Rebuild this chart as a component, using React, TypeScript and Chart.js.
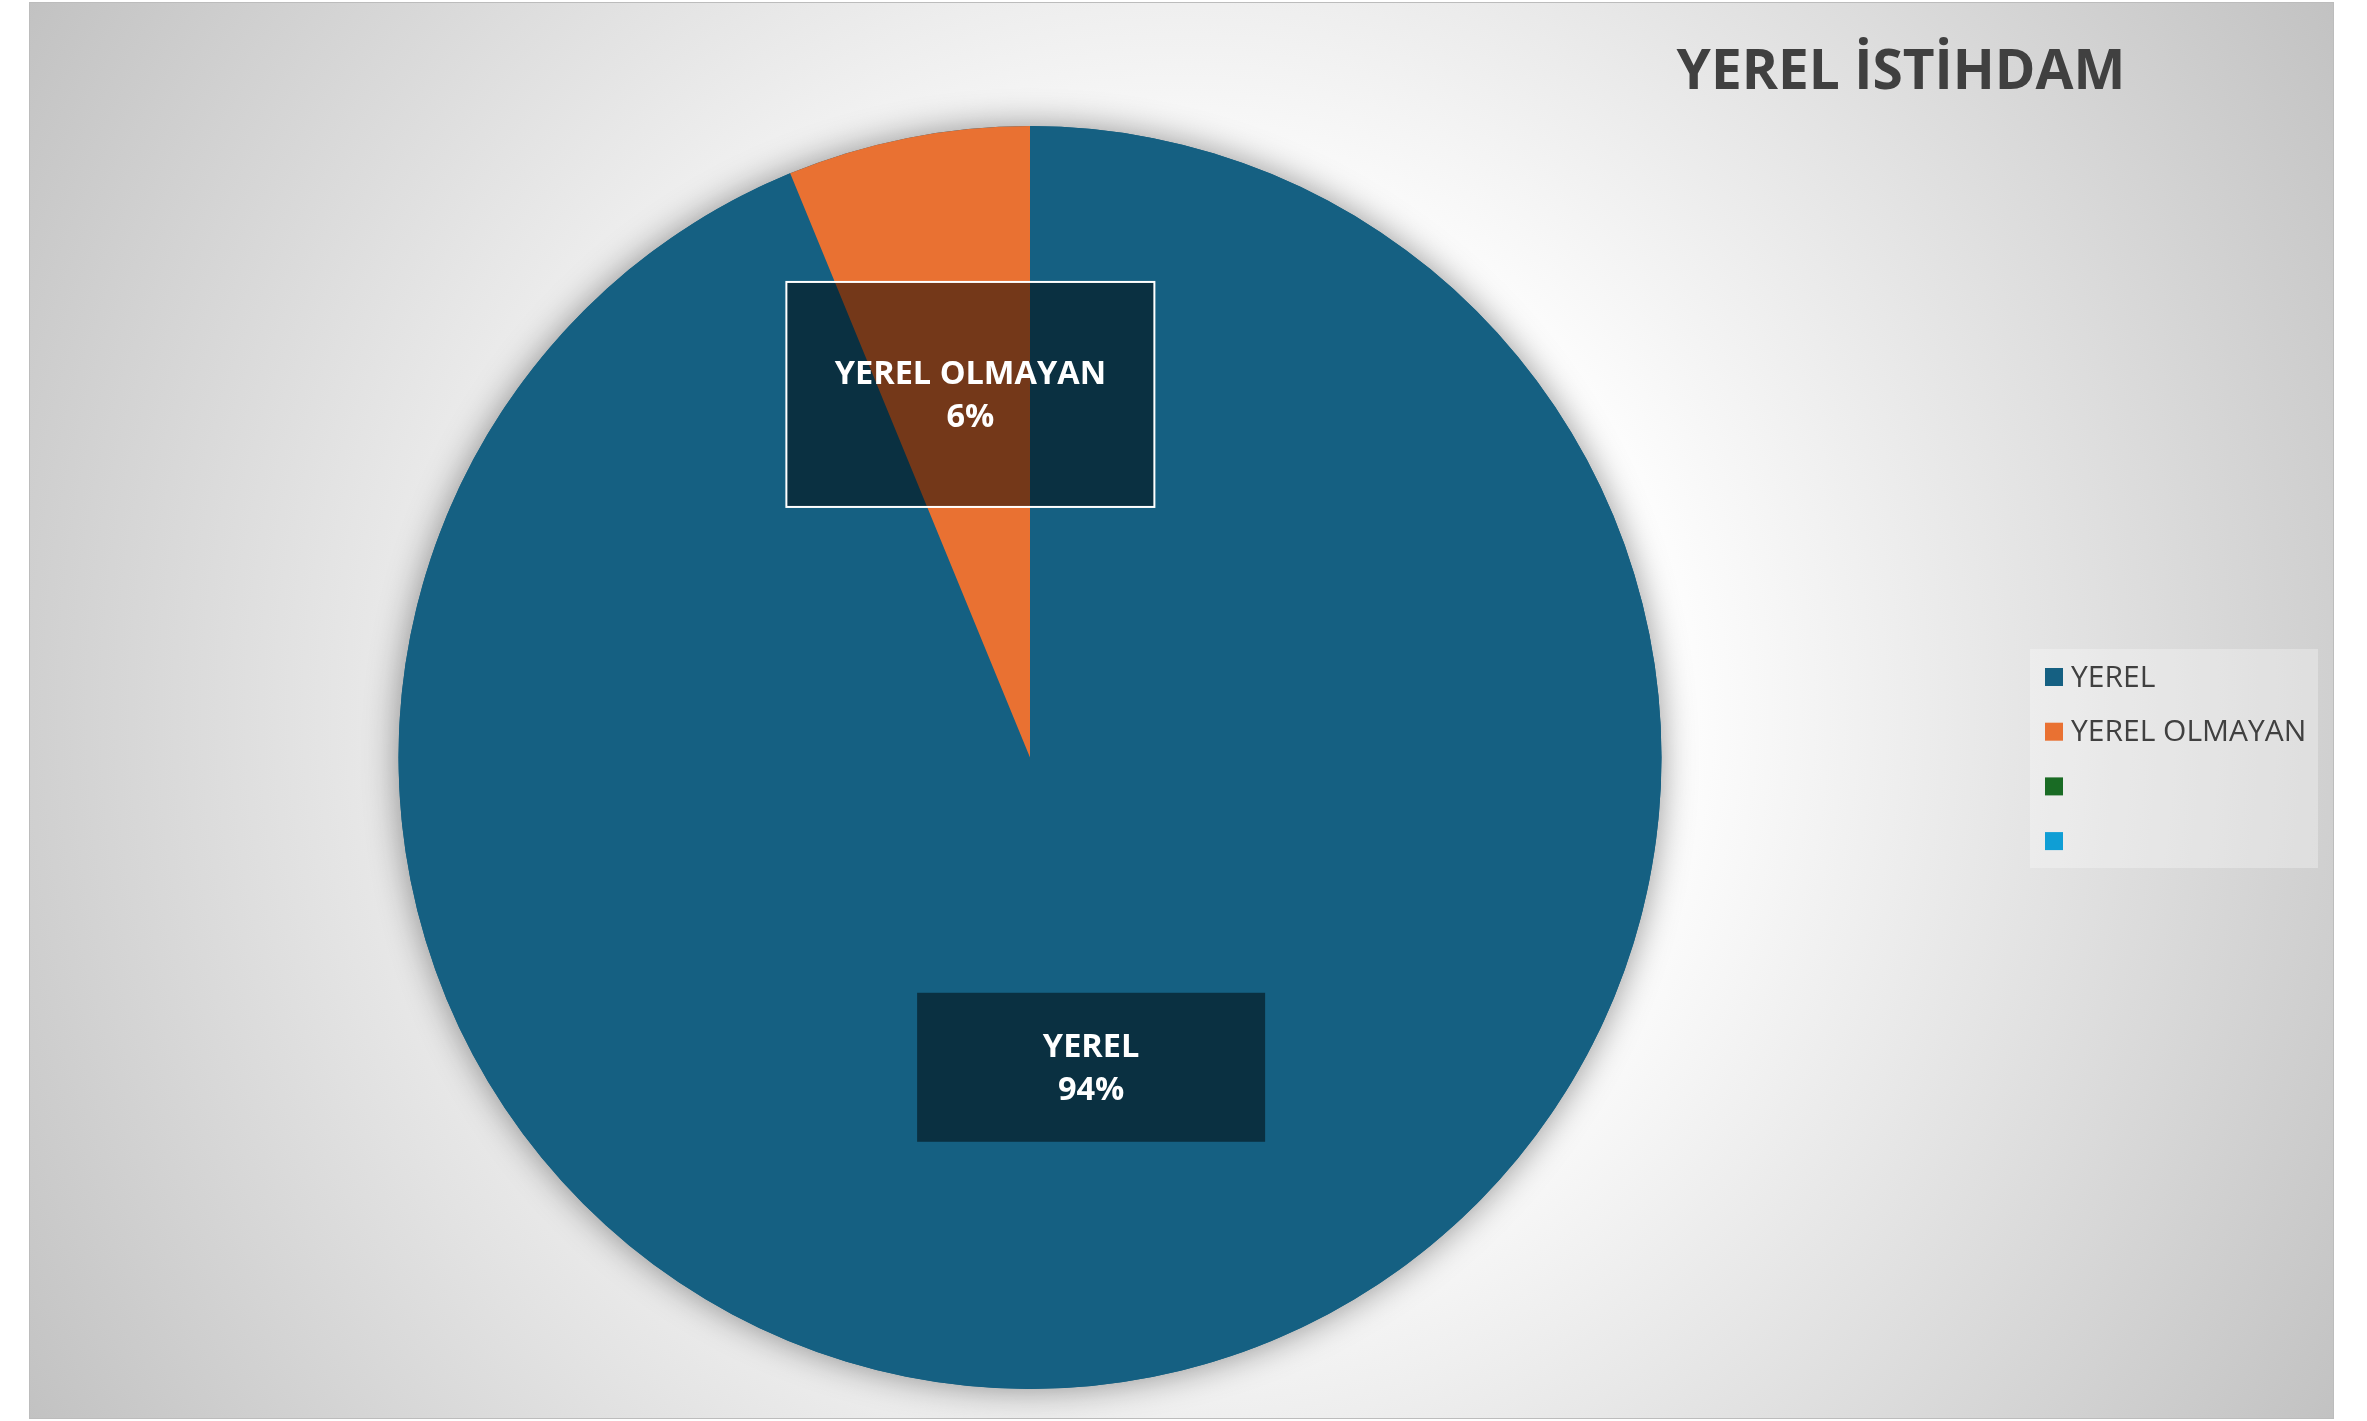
import React, { useEffect, useRef } from "react";
import { Chart, registerables } from "chart.js";

Chart.register(...registerables);

// ---- data ----
const TITLE = "YEREL İSTİHDAM";
const CATEGORIES = ["YEREL", "YEREL OLMAYAN", "", ""];
const VALUES = [93.8, 6.2, 0, 0];
const COLORS = ["#156082", "#E97132", "#196B24", "#0F9ED5"];

// ---- layout / style ----
const W = 2305;
const H = 1417;
const FONT = '"Open Sans", "Noto Sans", sans-serif';
const TEXT_COLOR = "#404040";

const LABEL_STYLE = [
  { frac: 0.5, dx: 0, dy: 0, w: 348, h: 149, border: false },
  { frac: 0.586, dx: 12, dy: 0, w: 368, h: 225, border: true },
];

const decorPlugin = {
  id: "decor",
  beforeDatasetsDraw(chart: any) {
    const meta = chart.getDatasetMeta(0);
    const a: any = meta.data[0];
    if (!a) return;
    const ctx = chart.ctx;
    ctx.save();
    ctx.shadowColor = "rgba(0,0,0,0.42)";
    ctx.shadowBlur = 34;
    ctx.fillStyle = COLORS[0];
    ctx.beginPath();
    ctx.arc(a.x, a.y, a.outerRadius, 0, Math.PI * 2);
    ctx.fill();
    ctx.restore();
  },
  afterDatasetsDraw(chart: any) {
    const ctx = chart.ctx;
    const meta = chart.getDatasetMeta(0);
    const ds = chart.data.datasets[0];
    const values: number[] = ds.data as number[];
    const total = values.reduce((s, v) => s + v, 0);
    const labels: string[] = chart.data.labels as string[];

    // data labels
    ctx.save();
    labels.forEach((lab, i) => {
      const st = LABEL_STYLE[i];
      if (!st || !values[i]) return;
      const arc: any = meta.data[i];
      const mid = (arc.startAngle + arc.endAngle) / 2;
      const r = arc.outerRadius * st.frac;
      const cx = arc.x + Math.cos(mid) * r + st.dx;
      const cy = arc.y + Math.sin(mid) * r + st.dy;
      const x0 = cx - st.w / 2;
      const y0 = cy - st.h / 2;
      ctx.fillStyle = "rgba(0,0,0,0.5)";
      ctx.fillRect(x0, y0, st.w, st.h);
      if (st.border) {
        ctx.strokeStyle = "#ffffff";
        ctx.lineWidth = 2;
        ctx.strokeRect(x0, y0, st.w, st.h);
      }
      ctx.fillStyle = "#ffffff";
      ctx.font = `bold 32.5px ${FONT}`;
      ctx.textAlign = "center";
      ctx.textBaseline = "alphabetic";
      const pct = Math.round((values[i] / total) * 100) + "%";
      ctx.fillText(lab, cx, cy - 10);
      ctx.fillText(pct, cx, cy + 33);
    });
    ctx.restore();
  },
  afterDraw(chart: any) {
    const ctx = chart.ctx;
    const labels: string[] = chart.data.labels as string[];
    const colors: string[] = chart.data.datasets[0].backgroundColor as string[];

    // title
    ctx.save();
    ctx.fillStyle = TEXT_COLOR;
    ctx.font = `bold 55px ${FONT}`;
    ctx.textAlign = "center";
    ctx.textBaseline = "alphabetic";
    ctx.fillText(TITLE, 1872, 87);

    // legend
    const lx = 2001;
    const ly = 647;
    ctx.fillStyle = "rgba(255,255,255,0.3)";
    ctx.fillRect(lx, ly, 288, 219);
    ctx.font = `30px ${FONT}`;
    ctx.textAlign = "left";
    labels.forEach((lab, i) => {
      const yc = 675 + i * 54.7;
      ctx.fillStyle = colors[i];
      ctx.fillRect(2016, yc - 9, 18, 18);
      ctx.fillStyle = TEXT_COLOR;
      ctx.fillText(lab, 2042, yc + 9.5);
    });
    ctx.restore();
  },
};

export default function App() {
  const ref = useRef<HTMLCanvasElement | null>(null);

  useEffect(() => {
    if (!ref.current) return;
    const chart = new Chart(ref.current, {
      type: "pie",
      data: {
        labels: CATEGORIES,
        datasets: [
          {
            data: VALUES,
            backgroundColor: COLORS,
            borderWidth: 0,
            hoverOffset: 0,
            offset: 0,
          },
        ],
      },
      options: {
        responsive: false,
        animation: false,
        events: [],
        layout: { padding: { left: 369.5, right: 672.5, top: 124, bottom: 30 } },
        plugins: {
          legend: { display: false },
          title: { display: false },
          tooltip: { enabled: false },
        },
      },
      plugins: [decorPlugin],
    } as any);
    return () => chart.destroy();
  }, []);

  return (
    <div
      style={{
        position: "absolute",
        left: 0,
        top: 0,
        width: 2367,
        height: 1421,
        background: "#ffffff",
        overflow: "hidden",
      }}
    >
      <div
        style={{
          position: "absolute",
          left: 29,
          top: 2,
          width: W,
          height: H,
          background:
            "radial-gradient(circle farthest-corner at 50% 50%, #ffffff 35%, #c2c2c2 100%)",
          boxShadow: "inset 0 0 0 1px #bcbcbc",
        }}
      >
        <canvas ref={ref} width={W} height={H} style={{ display: "block", width: W, height: H }} />
      </div>
    </div>
  );
}
